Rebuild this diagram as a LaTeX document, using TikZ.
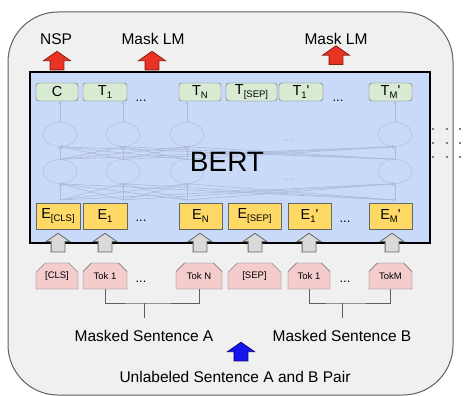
\documentclass[tikz,border=0pt]{standalone}
\usepackage{fontspec}
\setmainfont{Liberation Sans}
\usetikzlibrary{arrows.meta, shapes.geometric, shapes.arrows, shapes.misc}

\definecolor{framefill}{HTML}{F0F0F0}
\definecolor{framedraw}{HTML}{5F5F5F}
\definecolor{bertblue}{HTML}{C9DAF8}
\definecolor{tgreen}{HTML}{D9EAD3}
\definecolor{eyellow}{HTML}{FFD966}
\definecolor{tokpink}{HTML}{F4CCCC}
\definecolor{boxgray}{HTML}{666666}
\definecolor{netgray}{HTML}{ADBAD4}
\definecolor{arrowred}{HTML}{EA3323}
\definecolor{arrowblue}{HTML}{1515F0}
\definecolor{arrowgray}{HTML}{D9D9D9}

\newcommand{\sublbl}[2]{#1\raisebox{-3.5pt}{\fontsize{9.5}{9.5}\selectfont #2}}
\newcommand{\primelbl}[2]{#1\raisebox{-3.5pt}{\fontsize{9.5}{9.5}\selectfont #2}\textquotesingle}

\begin{document}
\begin{tikzpicture}[x=1pt, y=-1pt,
    tbox/.style={draw=boxgray, fill=tgreen, rounded corners=3pt, minimum height=18pt, inner sep=0pt, font=\fontsize{14.5}{14.5}\selectfont},
    ebox/.style={draw=boxgray, fill=eyellow, minimum height=26pt, inner sep=0pt, font=\fontsize{14.5}{14.5}\selectfont},
    tokbox/.style={chamfered rectangle, chamfered rectangle corners={north west, north east}, chamfered rectangle xsep=5pt, chamfered rectangle ysep=5pt, draw=boxgray, fill=tokpink, minimum height=26pt, inner sep=0pt, font=\fontsize{9.5}{9.5}\selectfont},
    neuron/.style={ellipse, draw=netgray, minimum width=34pt, minimum height=24pt, inner sep=0pt},
    link/.style={draw=netgray, line width=0.6pt, -{Stealth[length=3pt, width=3pt]}},
    blockup/.style={single arrow, shape border rotate=90, single arrow tip angle=110, line width=0.8pt},
    redup/.style={blockup, draw=arrowred!60!black, fill=arrowred, inner sep=6.5pt, minimum height=18pt, single arrow head extend=6.5pt},
    grayup/.style={blockup, draw=boxgray, fill=arrowgray, inner sep=6.5pt, minimum height=16pt, single arrow head extend=5pt},
    blueup/.style={blockup, draw=arrowblue!50!black, fill=arrowblue, inner sep=6.5pt, minimum height=18pt, single arrow head extend=6.5pt},
    title/.style={inner sep=0pt, font=\fontsize{15.5}{15.5}\selectfont},
    dots/.style={inner sep=0pt, font=\fontsize{13}{13}\selectfont},
    bracket/.style={draw=framedraw, line width=1pt}]
  \useasboundingbox (0,0) rectangle (472,396);

  % frame and model box
  \draw [framedraw, fill=framefill, line width=1pt, rounded corners=50pt] (8,12) rectangle (453,395);
  \draw [line width=2pt, fill=bertblue] (30,72) rectangle (430,243);
  \foreach \y in {129,143,157}
    \draw [gray, line width=2pt, dash pattern=on 2pt off 11.5pt] (432,\y) -- (472,\y);

  % hidden layers
  \foreach \x [count=\i] in {60,123,187,395} {
    \node [neuron] (top\i) at (\x,134.5) {};
    \node [neuron] (mid\i) at (\x,171.5) {};
    \coordinate (in\i) at (\x,200);
  }
  \foreach \i in {1,...,4}
    \foreach \j in {1,...,4} {
      \draw [link] (mid\i.north) -- (top\j.south);
      \draw [link] (in\i) -- (mid\j.south);
    }
  \node [dots, text=netgray] (net dots a) at (288,141) {...};
  \node [dots, text=netgray] (net dots b) at (288,180) {...};
  \node [inner sep=0pt, font=\fontsize{28}{28}\selectfont] (bert) at (227,162) {BERT};

  % output row
  \node [tbox, minimum width=42pt] (c) at (57,92) {C};
  \node [tbox, minimum width=44pt] (t1) at (105,92) {\sublbl{T}{1}};
  \node [dots] (t dots a) at (141,101) {...};
  \node [tbox, minimum width=42pt] (tn) at (200,92) {\sublbl{T}{N}};
  \node [tbox, minimum width=51pt] (tsep) at (251.5,92) {\sublbl{T}{[SEP]}};
  \node [tbox, minimum width=44pt] (t1b) at (301,92) {\primelbl{T}{1}};
  \node [dots] (t dots b) at (338,101) {...};
  \node [tbox, minimum width=43pt] (tmb) at (390.5,92) {\primelbl{T}{M}};
  \foreach \i in {1,...,4}
    \draw [link] (top\i.north) -- (top\i.north |- c.south);

  % embedding row
  \node [ebox, minimum width=44pt] (ecls) at (58,216) {\sublbl{E}{[CLS]}};
  \node [ebox, minimum width=44pt] (e1) at (105,216) {\sublbl{E}{1}};
  \node [dots] (e dots a) at (141,221) {...};
  \node [ebox, minimum width=43pt] (en) at (200.5,216) {\sublbl{E}{N}};
  \node [ebox, minimum width=53pt] (esep) at (254.5,216) {\sublbl{E}{[SEP]}};
  \node [ebox, minimum width=43pt] (e1b) at (309.5,216) {\primelbl{E}{1}};
  \node [dots] (e dots b) at (345,222) {...};
  \node [ebox, minimum width=43pt] (emb) at (390.5,216) {\primelbl{E}{M}};

  % input tokens
  \node [tokbox, minimum width=42pt] (tokcls) at (57,276) {[CLS]};
  \node [tokbox, minimum width=44pt] (tok1) at (105,276) {Tok 1};
  \node [dots] (tok dots a) at (141,282) {...};
  \node [tokbox, minimum width=46pt] (tokn) at (199,276) {Tok N};
  \node [tokbox, minimum width=53pt] (toksep) at (254.5,276) {[SEP]};
  \node [tokbox, minimum width=42pt] (tok1b) at (309,276) {Tok 1};
  \node [dots] (tok dots b) at (345,282) {...};
  \node [tokbox, minimum width=43pt] (tokm) at (390.5,276) {TokM};

  \foreach \x in {58,105,200,255,309,392}
    \node [grayup] at (\x,245) {};

  % heads
  \node [title] (nsp) at (56,39) {NSP};
  \node [title] (mlm a) at (153,39) {Mask LM};
  \node [title] (mlm b) at (336,39) {Mask LM};
  \node [redup] (nsp arrow) at (57,63) {};
  \node [redup] (mlm a arrow) at (152,63) {};
  \node [redup] (mlm b arrow) at (336,57.5) {};

  % sentences
  \node [title] (sent a) at (144,336) {Masked Sentence A};
  \node [title] (sent b) at (342,336) {Masked Sentence B};
  \coordinate (join a) at (144,303);
  \coordinate (join b) at (342,303);
  \draw [bracket] (tok1.south) |- (join a) -| (tokn.south);
  \draw [bracket] (tok1b.south) |- (join b) -| (tokm.south);
  \draw [bracket] (join a) -- ([yshift=12pt]sent a.north);
  \draw [bracket] (join b) -- ([yshift=12pt]sent b.north);
  \node [blueup] (pair arrow) at (241,354) {};
  \node [title] (pair) at (235,377) {Unlabeled Sentence A and B Pair};
\end{tikzpicture}
\end{document}
